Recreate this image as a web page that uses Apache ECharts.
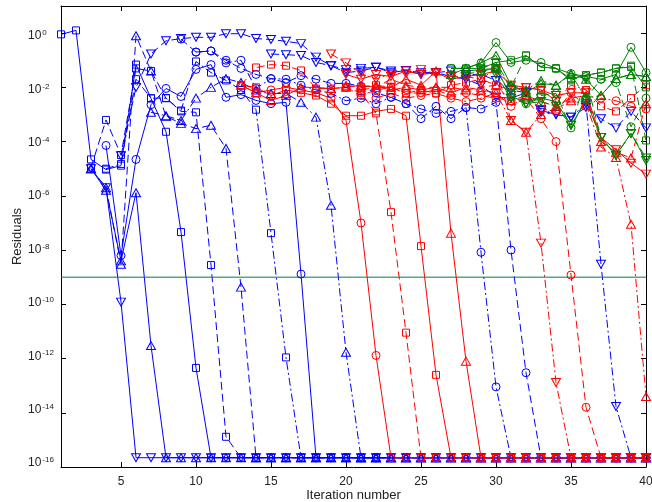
<!DOCTYPE html>
<html><head><meta charset="utf-8">
<script src="https://cdn.jsdelivr.net/npm/echarts/dist/echarts.min.js"></script>
<style>html,body{margin:0;padding:0;background:#fff}#c{width:652px;height:502px}</style>
</head><body><div id="c"></div>
<script>
const _ = null;
const E = 2.2e-16; // floor reached after convergence
const iterations = [1,2,3,4,5,6,7,8,9,10,11,12,13,14,15,16,17,18,19,20,21,22,23,24,25,26,27,28,29,30,31,32,33,34,35,36,37,38,39,40];
const xTickValues = [5,10,15,20,25,30,35,40];
const tolerance = 1e-9;

// ---- blue series ----
const blueSolidTriDown = [_,_,1e-5,2e-6,1.2e-10, E,E,E,E,E,E,E,E,E,E, E,E,E,E,E,E,E,E,E,E, E,E,E,E,E,E,E,E,E,E, E,E,E,E,E];
const blueSolidTriUp = [_,_,1e-5,1.6e-6,4e-9,1.3e-6,3e-12, E,E,E, E,E,E,E,E,E,E,E,E,E, E,E,E,E,E,E,E,E,E,E, E,E,E,E,E,E,E,E,E,E];
const blueSolidSquare = [0.9,1.26,2.2e-5,9.3e-6,1.3e-5,0.069,3.9e-3,2.3e-4,4.6e-8,4.5e-13, E,E,E,E,E,E,E,E,E,E, E,E,E,E,E,E,E,E,E,E, E,E,E,E,E,E,E,E,E,E];
const blueDashSquare = [_,_,1.1e-5,6.3e-4,3.2e-5,0.05,0.04,4e-3,1.3e-3,1.2e-3, 2.8e-9,1.3e-15,E,E,E,E,E,E,E,E, E,E,E,E,E,E,E,E,E,E, E,E,E,E,E,E,E,E,E,E];
const blueDashTriUp = [_,_,1e-5,2e-6,3e-9,0.8,0.04,8.5e-4,4.7e-4,3e-4, 4e-4,5.6e-5,4.3e-10,E,E,E,E,E,E,E, E,E,E,E,E,E,E,E,E,E, E,E,E,E,E,E,E,E,E,E];
const blueDashDotSquare = [_,_,_,1e-5,1.5e-5,0.02,4e-3,4e-3,1.4e-3,0.09, 0.035,0.018,8e-3,1.5e-3,4.2e-8,1.1e-12,E,E,E,E, E,E,E,E,E,E,E,E,E,E, E,E,E,E,E,E,E,E,E,E];
const blueSolidCircle = [_,_,_,7.2e-5,6.3e-9,2.2e-5,2.3e-3,9.1e-3,4.6e-3,0.046, 0.069,4.3e-3,5.4e-3,3.3e-3,2.5e-3,2.8e-3,1.3e-9,E,E,E, E,E,E,E,E,E,E,E,E,E, E,E,E,E,E,E,E,E,E,E];
const blueDashDotTriUp = [_,_,_,_,_,_,1.2e-3,9e-4,6e-4,4e-3, 0.01,0.021,0.015,8e-3,5.9e-3,6e-3,2.8e-3,8e-4,4.5e-7,1.7e-12, E,E,E,E,E,E,E,E,E,E, E,E,E,E,E,E,E,E,E,E];
const blueDashDotCircle = [_,_,_,_,_,_,_,_,_,0.2, 0.22,0.08,0.1,0.009,0.021,0.02,0.012,0.008,0.006,0.0032, 0.004,0.0025,0.0043,0.0025,0.0016,0.0011,0.0013,0.0018,8.3e-9,9e-14, E,E,E,E,E,E,E,E,E,E];
const blueDashCircle = [_,_,_,_,_,_,_,_,0.6,0.2, 0.22,0.1,0.05,0.03,0.021,0.015,0.027,0.02,0.014,0.014, 0.011,0.0063,0.0043,0.0025,7e-4,0.002,7e-4,0.0018,0.0016,0.0028, 1e-8,3e-13,E,E,E,E,E,E,E,E];
const blueDashDotTriDown = [_,_,_,_,_,_,_,_,_,_, _,_,_,_,0.17,0.16,0.15,0.083,0.063,0.035, 0.04,0.055,0.035,0.042,0.03,0.035,0.025,0.02,0.012,0.0043, 0.004,0.0063,0.0012,0.001,8e-4,0.0025,3e-9,1.7e-14,E,E];
const blueDashTriDown = [_,_,_,_,3e-5,0.01,0.17,0.52,0.63,0.7, 0.7,0.95,0.95,0.63,0.58,0.5,0.41,0.13,0.063,0.045, 0.05,0.055,0.04,0.042,0.035,0.035,0.04,0.03,0.03,0.018, 0.008,0.0063,0.0014,0.001,8e-4,0.0018,7e-4,3.2e-4,0.0013,3.2e-4];

// ---- red series ----
const redSolidCircle = [_,_,_,_,_,_,_,_,_,_, _,_,0.012,0.0063,0.008,0.01,0.008,0.0063,0.004,6e-4, 1e-7,1.3e-12,E,E,E,E,E,E,E,E, E,E,E,E,E,E,E,E,E,E];
const redDashSquare = [_,_,_,_,_,_,_,_,_,_, _,_,0.012,0.054,0.069,0.063,0.042,0.009,0.009,0.01, 0.0063,0.0011,2.5e-7,9e-12,E,E,E,E,E,E, E,E,E,E,E,E,E,E,E,E];
const redSolidSquare = [_,_,_,_,_,_,_,_,_,_, _,_,0.012,0.01,0.005,0.008,0.0063,0.005,0.0025,9e-4, 9e-4,0.0013,0.0016,9e-4,1.4e-8,2.5e-13,E,E,E,E, E,E,E,E,E,E,E,E,E,E];
const redSolidTriUp = [_,_,_,_,_,_,_,_,_,_, _,_,0.012,0.0063,0.0033,0.005,0.01,0.01,0.009,0.01, 0.012,0.01,0.01,0.02,0.012,0.04,4.2e-8,8e-13,E,E, E,E,E,E,E,E,E,E,E,E];
const redDashDotTriDown = [_,_,_,_,_,_,_,_,_,_, _,_,_,_,_,_,_,_,0.17,0.08, 0.032,0.02,0.032,0.032,0.045,0.032,0.025,0.025,0.02,0.05, 6e-4,2.2e-4,1.8e-8,1.3e-13,E,E,E,E,E,E];
const redDashCircle = [_,_,_,_,_,_,_,_,_,_, _,_,_,_,_,_,_,_,_,0.01, 0.005,0.008,0.01,0.006,0.0063,0.008,0.005,0.0063,0.005,0.004, 0.0032,0.004,7e-4,1e-4,1.2e-9,1.6e-14,E,E,E,E];
const redDashDotTriUp = [_,_,_,_,_,_,_,_,_,_, _,_,_,_,_,_,_,_,_,0.012, 0.01,0.012,0.008,0.01,0.008,0.01,0.0063,0.01,0.008,0.0063, 6e-4,2.2e-4,0.001,0.0016,0.0032,0.0025,6.3e-5,2.6e-5,9e-8,4e-14];
const redSolidTriDown = [_,_,_,_,_,_,_,_,_,_, _,_,_,_,_,_,_,_,_,0.03, 0.02,0.03,0.025,0.04,0.03,0.035,0.02,0.025,0.03,0.04, 0.012,0.01,0.008,0.005,0.0063,0.0063,1.4e-4,5e-5,1.6e-5,6.3e-6];
const redDashTriUp = [_,_,_,_,_,_,_,_,_,_, _,_,_,_,_,_,_,_,_,_, 0.008,0.01,0.02,0.012,0.01,0.01,0.01,0.008,0.01,0.012, 0.0032,0.005,0.003,0.002,0.004,0.005,1e-4,4e-5,2.5e-5,0.0025];
const redDashDotSquare = [_,_,_,_,_,_,_,_,_,_, _,_,_,_,_,_,_,_,_,_, 0.01,0.012,0.01,0.006,0.008,0.006,0.012,0.015,0.02,0.012, 0.008,0.01,0.008,0.0032,0.012,0.008,0.002,0.0013,0.004,0.012];
const redDashDotCircle = [_,_,_,_,_,_,_,_,_,_, _,_,_,_,_,_,_,_,_,_, _,0.004,0.006,0.004,0.005,0.006,0.004,0.003,0.004,0.0063, 0.002,0.005,0.0016,0.0013,0.0063,0.002,0.004,0.0032,0.002,0.0016];

// ---- green series ----
const greenSolidCircle = [_,_,_,_,_,_,_,_,_,_, _,_,_,_,_,_,_,_,_,_, _,_,_,_,_,_,0.05,0.05,0.08,0.45, 0.083,0.1,0.083,0.05,0.032,0.025,0.02,0.03,0.3,0.035];
const greenSolidSquare = [_,_,_,_,_,_,_,_,_,_, _,_,_,_,_,_,_,_,_,_, _,_,_,_,_,_,0.05,0.05,0.05,0.083, 0.1,0.15,0.056,0.05,0.02,0.028,0.035,0.05,0.056,0.01];
const greenSolidTriUp = [_,_,_,_,_,_,_,_,_,_, _,_,_,_,_,_,_,_,_,_, _,_,_,_,_,_,0.03,0.05,0.08,0.15, 0.012,0.0063,0.014,0.012,0.032,0.02,0.005,0.021,0.03,0.025];
const greenSolidTriDown = [_,_,_,_,_,_,_,_,_,_, _,_,_,_,_,_,_,_,_,_, _,_,_,_,_,_,_,0.04,0.045,0.05, 0.005,0.0025,0.004,0.003,4e-4,0.0032,1.4e-4,3.2e-5,2e-4,2e-5];
const greenDashCircle = [_,_,_,_,_,_,_,_,_,_, _,_,_,_,_,_,_,_,_,_, _,_,_,_,_,_,_,0.03,0.04,0.05, 0.0045,0.0025,0.005,0.006,3.2e-4,0.004,0.02,0.015,3.5e-4,0.004];
const greenDashSquare = [_,_,_,_,_,_,_,_,_,_, _,_,_,_,_,_,_,_,_,_, _,_,_,_,_,_,_,_,0.05,0.083, 0.01,0.15,0.056,0.05,0.018,0.028,0.035,0.05,0.063,1.1e-4];
const greenDashDotTriUp = [_,_,_,_,_,_,_,_,_,_, _,_,_,_,_,_,_,_,_,_, _,_,_,_,_,_,_,_,0.04,0.05, 0.012,0.008,0.018,0.012,0.03,0.004,0.005,0.021,0.03,0.025];
const greenDashTriDown = [_,_,_,_,_,_,_,_,_,_, _,_,_,_,_,_,_,_,_,_, _,_,_,_,_,_,_,_,_,0.03, 0.004,0.0025,0.003,0.002,4e-4,0.02,1.4e-4,3e-5,2e-4,2.5e-5];

const BLUE = '#0000ff', RED = '#ff0000', GREEN = '#008000', TOL = '#008040';
const FONT = 'Liberation Sans, Arial, Helvetica, sans-serif';
const DASH = [8, 4], DASHDOT = [8, 3, 2, 3], SOLID = 'solid';

const seriesSpec = [
  [blueSolidTriDown, BLUE, 'tdown', SOLID], [blueSolidTriUp, BLUE, 'tup', SOLID],
  [blueSolidSquare, BLUE, 'sq', SOLID], [blueDashSquare, BLUE, 'sq', DASH],
  [blueDashTriUp, BLUE, 'tup', DASH], [blueDashDotSquare, BLUE, 'sq', DASHDOT],
  [blueSolidCircle, BLUE, 'ci', SOLID], [blueDashDotTriUp, BLUE, 'tup', DASHDOT],
  [blueDashDotCircle, BLUE, 'ci', DASHDOT], [blueDashCircle, BLUE, 'ci', DASH],
  [blueDashDotTriDown, BLUE, 'tdown', DASHDOT], [blueDashTriDown, BLUE, 'tdown', DASH],
  [redSolidCircle, RED, 'ci', SOLID], [redDashSquare, RED, 'sq', DASH],
  [redSolidSquare, RED, 'sq', SOLID], [redSolidTriUp, RED, 'tup', SOLID],
  [redDashDotTriDown, RED, 'tdown', DASHDOT], [redDashCircle, RED, 'ci', DASH],
  [redDashDotTriUp, RED, 'tup', DASHDOT], [redSolidTriDown, RED, 'tdown', SOLID],
  [redDashTriUp, RED, 'tup', DASH], [redDashDotSquare, RED, 'sq', DASHDOT],
  [redDashDotCircle, RED, 'ci', DASHDOT],
  [greenSolidCircle, GREEN, 'ci', SOLID], [greenSolidSquare, GREEN, 'sq', SOLID],
  [greenSolidTriUp, GREEN, 'tup', SOLID], [greenSolidTriDown, GREEN, 'tdown', SOLID],
  [greenDashCircle, GREEN, 'ci', DASH], [greenDashSquare, GREEN, 'sq', DASH],
  [greenDashDotTriUp, GREEN, 'tup', DASHDOT], [greenDashTriDown, GREEN, 'tdown', DASH]
];

const symbolMap = {
  sq: {symbol: 'rect', size: 7, rot: 0},
  ci: {symbol: 'circle', size: 8, rot: 0},
  tup: {symbol: 'triangle', size: [9, 8], rot: 0},
  tdown: {symbol: 'triangle', size: [9, 8], rot: 180}
};

const series = seriesSpec.map(([arr, color, mk, dash], k) => {
  const s = symbolMap[mk];
  return {
    type: 'line', name: 's' + k, xAxisIndex: 0, yAxisIndex: 0,
    data: arr.map((v, i) => v == null ? null : [iterations[i], v]).filter(d => d),
    symbol: s.symbol, symbolSize: s.size, symbolRotate: s.rot, showAllSymbol: true,
    lineStyle: {color: color, width: 1, type: dash},
    itemStyle: {color: 'rgba(0,0,0,0)', borderColor: color, borderWidth: 1},
    emphasis: {disabled: true}, animation: false, silent: true
  };
});
series.push({
  type: 'line', name: 'tolerance', xAxisIndex: 0, yAxisIndex: 0,
  data: [[iterations[0], tolerance], [iterations[39], tolerance]],
  symbol: 'none', lineStyle: {color: TOL, width: 1}, animation: false, silent: true
});

function yFmt(v) {
  const L = Math.log10(v);
  const e = Math.round(L);
  if (Math.abs(L - e) > 0.02 || e > 0 || e % 2 !== 0) return '';
  return '{b|10}{s|' + e + '}';
}

const frameAxis = {
  axisLine: {show: true, onZero: false, lineStyle: {color: '#000', width: 1}},
  axisTick: {show: true, inside: true, length: 5, lineStyle: {color: '#000'}},
  splitLine: {show: false}
};

const chart = echarts.init(document.getElementById('c'), null, {renderer: 'canvas'});
chart.setOption({
  animation: false,
  backgroundColor: '#fff',
  grid: [
    {left: 61, right: 6, top: 6, bottom: 35, containLabel: false, outerBoundsMode: 'none'},
    // label band: tick labels of the original figure sit slightly off the ticks
    {left: 61, right: 6, top: 36, bottom: 39, containLabel: false, outerBoundsMode: 'none'}
  ],
  xAxis: [Object.assign({}, frameAxis, {
    type: 'value', min: 1, max: 40, position: 'bottom', gridIndex: 0,
    name: 'Iteration number', nameLocation: 'middle', nameGap: 22, nameMoveOverlap: false,
    nameTextStyle: {fontFamily: FONT, fontSize: 13, color: '#222'},
    axisTick: {show: true, inside: true, length: 5, customValues: xTickValues, lineStyle: {color: '#000'}},
    axisLabel: {customValues: xTickValues, fontFamily: FONT, fontSize: 12, color: '#222', margin: 9}
  }), Object.assign({}, frameAxis, {
    type: 'value', min: 1, max: 40, position: 'top', gridIndex: 0,
    axisTick: {show: true, inside: true, length: 5, customValues: xTickValues, lineStyle: {color: '#000'}},
    axisLabel: {show: false}
  }), {
    type: 'value', min: 1, max: 40, gridIndex: 1, show: false
  }],
  yAxis: [Object.assign({}, frameAxis, {
    type: 'log', logBase: 10, min: 1e-16, max: 10, interval: 2, position: 'left', gridIndex: 0,
    name: 'Residuals', nameLocation: 'middle', nameGap: 37, nameMoveOverlap: false,
    nameTextStyle: {fontFamily: FONT, fontSize: 13, color: '#222'},
    axisLabel: {show: false}
  }), Object.assign({}, frameAxis, {
    type: 'log', logBase: 10, min: 1e-16, max: 10, interval: 2, position: 'right', gridIndex: 0,
    axisLabel: {show: false}
  }), {
    type: 'log', logBase: 10, min: 1e-16, max: 1, interval: 2, position: 'left', gridIndex: 1,
    axisLine: {show: false}, axisTick: {show: false}, splitLine: {show: false},
    axisLabel: {
      formatter: yFmt, align: 'left', margin: 33,
      rich: {
        b: {fontFamily: FONT, fontSize: 12, color: '#222', lineHeight: 14},
        s: {fontFamily: FONT, fontSize: 8, color: '#222', verticalAlign: 'top', lineHeight: 8, padding: [0, 0, 8, 1]}
      }
    }
  }],
  series: series
});
</script>
</body></html>
